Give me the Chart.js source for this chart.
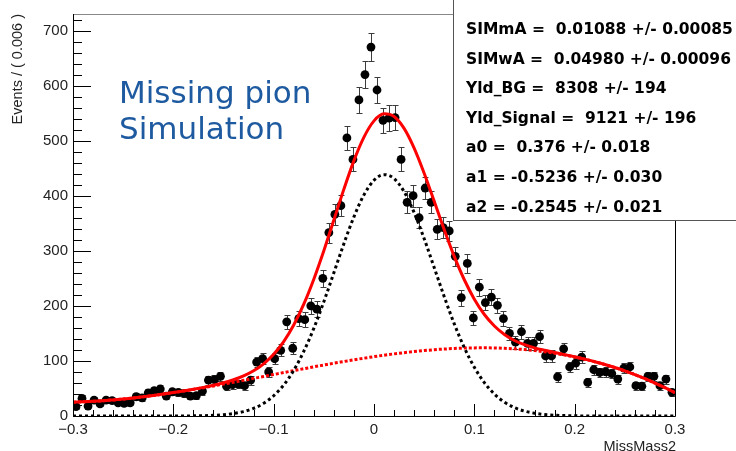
<!DOCTYPE html>
<html>
<head>
<meta charset="utf-8">
<script src="https://cdn.jsdelivr.net/npm/chart.js@4"></script>
<style>
  html, body { margin: 0; padding: 0; background: #ffffff; }
  #wrap { width: 736px; height: 451px; }
</style>
</head>
<body>
<div id="wrap"><canvas id="c" width="736" height="451"></canvas></div>
<script>
// MissMass2 histogram: 100 bins of width 0.006 from -0.3 to 0.3
const binLow = -0.3;
const binWidth = 0.006;
const counts = [
  17, 32, 18, 29, 22, 29, 28, 24, 23, 24,
  35, 33, 42, 46, 49, 36, 44, 43, 41, 36,
  37, 45, 65, 66, 72, 54, 57, 58, 55, 65,
  98, 104, 80, 104, 119, 171, 123, 177, 175, 200,
  194, 250, 333, 366, 382, 505, 466, 574, 620, 670,
  592, 537, 541, 542, 466, 388, 400, 360, 414, 388,
  339, 342, 336, 290, 215, 277, 178, 234, 206, 216,
  201, 177, 150, 134, 153, 132, 132, 144, 109, 109,
  71, 122, 89, 96, 107, 61, 84, 79, 80, 77,
  67, 87, 89, 55, 54, 72, 72, 55, 67, 43
];

// Fit components sampled every 0.01 from -0.30 to 0.30
const curveStart = -0.3;
const curveStep = 0.01;
const fitTotal = [
  25.1, 25.7, 26.6, 27.7, 29.2, 30.8, 32.8, 34.9, 37.2, 39.8,
  42.5, 45.4, 48.6, 52.0, 55.8, 60.3, 65.8, 72.8, 82.1, 94.8,
  112.1, 135.2, 165.3, 203.1, 248.5, 300.2, 356.0, 412.0, 463.8, 506.5,
  535.9, 548.7, 543.9, 522.3, 486.5, 440.8, 389.9, 338.3, 289.9, 247.4,
  212.2, 184.3, 163.4, 148.0, 137.1, 129.5, 123.8, 119.3, 115.3, 111.5,
  107.5, 103.3, 98.6, 93.6, 88.0, 81.8, 75.1, 67.8, 59.9, 51.4, 42.3
];
const fitSignal = [
  0, 0, 0, 0, 0, 0, 0, 0, 0, 0,
  0.1, 0.1, 0.3, 0.6, 1.2, 2.4, 4.5, 8.0, 13.9, 23.0,
  36.8, 56.3, 82.9, 117.3, 159.2, 207.6, 260.1, 313.0, 361.7, 401.5,
  428.1, 438.3, 431.1, 407.3, 369.5, 322.0, 269.5, 216.7, 167.3, 124.1,
  88.5, 60.5, 39.8, 25.1, 15.2, 8.9, 5.0, 2.7, 1.4, 0.7,
  0.3, 0.1, 0, 0, 0, 0, 0, 0, 0, 0, 0
];
const fitBackground = [
  25.1, 25.7, 26.6, 27.7, 29.2, 30.8, 32.8, 34.9, 37.2, 39.8,
  42.5, 45.3, 48.3, 51.4, 54.6, 58.0, 61.3, 64.8, 68.3, 71.8,
  75.3, 78.9, 82.4, 85.8, 89.3, 92.6, 95.9, 99.0, 102.1, 105.0,
  107.8, 110.4, 112.8, 115.0, 117.0, 118.8, 120.4, 121.6, 122.6, 123.3,
  123.7, 123.8, 123.6, 122.9, 121.9, 120.6, 118.8, 116.6, 113.9, 110.8,
  107.2, 103.2, 98.6, 93.6, 88.0, 81.8, 75.1, 67.8, 59.9, 51.4, 42.3
];

// Axis ticks and labels
const xTicks = [-0.3, -0.2, -0.1, 0, 0.1, 0.2, 0.3];
const yTicks = [0, 100, 200, 300, 400, 500, 600, 700];
const xTitle = 'MissMass2';
const yTitle = 'Events / ( 0.006 )';

// Fit parameter box
const statNames = ['SIMmA', 'SIMwA', 'Yld_BG', 'Yld_Signal', 'a0', 'a1', 'a2'];
const statValues = ['0.01088', '0.04980', '8308', '9121', '0.376', '-0.5236', '-0.2545'];
const statErrors = ['0.00085', '0.00096', '194', '196', '0.018', '0.030', '0.021'];

// Annotation
const noteLines = ['Missing pion', 'Simulation'];

const binCenters = counts.map((_, i) => binLow + binWidth * (i + 0.5));
const curveX = fitTotal.map((_, i) => curveStart + curveStep * i);
const toXY = (xs, ys) => ys.map((v, i) => ({ x: xs[i], y: v }));

const fmtX = v => {
  if (Math.abs(v) < 1e-9) return '0';
  return (v < 0 ? '\u2212' : '') + Math.abs(v).toFixed(1);
};

const overlay = {
  id: 'overlay',
  beforeDatasetsDraw(chart) {
    // Poisson error bars under the markers
    const { ctx, scales: { x, y } } = chart;
    ctx.save();
    ctx.strokeStyle = '#3c3c3c';
    ctx.lineWidth = 1;
    counts.forEach((n, i) => {
      const e = Math.sqrt(n);
      const cx = Math.round(x.getPixelForValue(binCenters[i])) + 0.5;
      const yHi = Math.round(y.getPixelForValue(n + e)) + 0.5;
      const yLo = Math.round(y.getPixelForValue(Math.max(n - e, 0))) + 0.5;
      ctx.beginPath();
      ctx.moveTo(cx, yHi); ctx.lineTo(cx, yLo);
      ctx.moveTo(cx - 3, yHi); ctx.lineTo(cx + 3, yHi);
      ctx.moveTo(cx - 3, yLo); ctx.lineTo(cx + 3, yLo);
      ctx.stroke();
    });
    ctx.restore();
  },
  afterDraw(chart) {
    const { ctx, chartArea: a, scales: { x, y } } = chart;
    ctx.save();
    // frame
    ctx.lineWidth = 1;
    ctx.strokeStyle = '#888888';
    ctx.beginPath(); ctx.moveTo(a.left, a.top + 0.5); ctx.lineTo(a.right, a.top + 0.5); ctx.stroke();
    ctx.strokeStyle = '#000000';
    ctx.beginPath();
    ctx.moveTo(a.left + 0.5, a.top); ctx.lineTo(a.left + 0.5, a.bottom + 0.5);
    ctx.lineTo(a.right + 0.5, a.bottom + 0.5); ctx.lineTo(a.right + 0.5, a.top);
    ctx.stroke();
    // inward ticks
    ctx.beginPath();
    for (let v = 0; v <= 720; v += 20) {
      const py = Math.round(y.getPixelForValue(v)) + 0.5;
      const len = v % 100 === 0 ? 18 : 9;
      ctx.moveTo(a.left, py); ctx.lineTo(a.left + len, py);
    }
    for (let k = -15; k <= 15; k++) {
      const px = Math.round(x.getPixelForValue(k * 0.02)) + 0.5;
      const len = k % 5 === 0 ? 12 : 6;
      ctx.moveTo(px, a.bottom); ctx.lineTo(px, a.bottom - len);
    }
    ctx.stroke();

    // x title, right-aligned at the axis end
    ctx.fillStyle = '#222222';
    ctx.font = '14.5px "Liberation Sans", Arial, sans-serif';
    ctx.textAlign = 'right';
    ctx.textBaseline = 'alphabetic';
    ctx.fillText(xTitle, a.right + 1, 451);

    // annotation
    ctx.fillStyle = '#1e5aa0';
    ctx.font = '31px "DejaVu Sans", sans-serif';
    ctx.textAlign = 'left';
    ctx.fillText(noteLines[0], 119, 103);
    ctx.fillText(noteLines[1], 119, 139);

    // fit parameter box
    ctx.fillStyle = '#ffffff';
    ctx.fillRect(453, -2, 300, 222);
    ctx.strokeStyle = '#555555';
    ctx.strokeRect(453.5, -2, 300, 222.5);
    ctx.fillStyle = '#000000';
    ctx.font = 'bold 15.5px "DejaVu Sans", sans-serif';
    statNames.forEach((name, i) => {
      const val = statValues[i];
      const line = name + ' = ' + (val.startsWith('-') ? '' : ' ') + val + ' +/- ' + statErrors[i];
      ctx.fillText(line, 466, 34 + i * 29.6);
    });
    ctx.restore();
  }
};

new Chart(document.getElementById('c'), {
  type: 'line',
  data: {
    datasets: [
      {
        label: 'data',
        data: toXY(binCenters, counts),
        showLine: false,
        pointRadius: 4.4,
        pointBackgroundColor: '#000000',
        pointBorderWidth: 0,
        order: 10
      },
      {
        label: 'background',
        data: toXY(curveX, fitBackground),
        borderColor: '#ff0000',
        borderWidth: 3,
        borderDash: [3, 2],
        pointRadius: 0,
        cubicInterpolationMode: 'monotone',
        order: 3
      },
      {
        label: 'signal',
        data: toXY(curveX, fitSignal),
        borderColor: '#000000',
        borderWidth: 3,
        borderDash: [3, 3],
        pointRadius: 0,
        cubicInterpolationMode: 'monotone',
        order: 2
      },
      {
        label: 'total',
        data: toXY(curveX, fitTotal),
        borderColor: '#ff0000',
        borderWidth: 3,
        pointRadius: 0,
        cubicInterpolationMode: 'monotone',
        order: 1
      }
    ]
  },
  options: {
    responsive: false,
    animation: false,
    devicePixelRatio: 1,
    layout: { padding: { top: 13, right: 61, left: 0, bottom: 0 } },
    plugins: { legend: { display: false }, tooltip: { enabled: false } },
    scales: {
      x: {
        type: 'linear',
        min: -0.3,
        max: 0.3,
        afterFit: s => { s.height = 35; },
        afterBuildTicks: s => { s.ticks = xTicks.map(v => ({ value: v })); },
        grid: { display: false, drawTicks: false },
        border: { display: false },
        ticks: {
          autoSkip: false,
          maxRotation: 0,
          padding: 5,
          color: '#222222',
          font: { family: '"Liberation Sans", Arial, sans-serif', size: 15 },
          callback: v => fmtX(v)
        }
      },
      y: {
        type: 'linear',
        min: 0,
        max: 730,
        afterFit: s => { s.width = 73; },
        afterBuildTicks: s => { s.ticks = yTicks.map(v => ({ value: v })); },
        grid: { display: false, drawTicks: false },
        border: { display: false },
        title: {
          display: true,
          text: yTitle,
          align: 'end',
          color: '#222222',
          font: { family: '"Liberation Sans", Arial, sans-serif', size: 14.5, lineHeight: 1.2 },
          padding: { top: 9, bottom: 0 }
        },
        ticks: {
          padding: 5,
          color: '#222222',
          font: { family: '"Liberation Sans", Arial, sans-serif', size: 15 },
          callback: v => String(v)
        }
      }
    }
  },
  plugins: [overlay]
});
</script>
</body>
</html>
